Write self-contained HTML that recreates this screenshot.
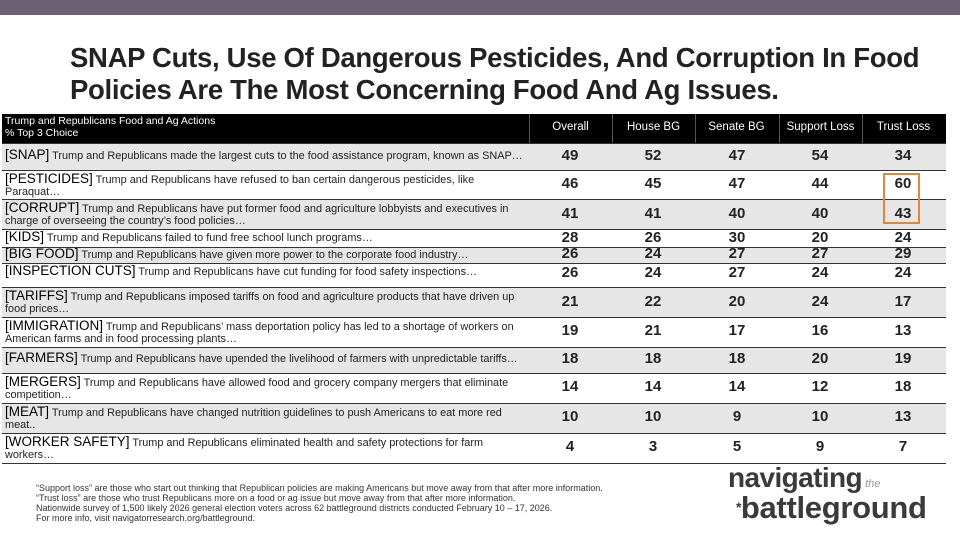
<!DOCTYPE html>
<html><head><meta charset="utf-8"><style>
*{margin:0;padding:0;box-sizing:border-box}
body{width:960px;height:540px;background:#fff;position:relative;overflow:hidden;font-family:"Liberation Sans",sans-serif;color:#111}
.bar{position:absolute;left:0;top:0;width:960px;height:15px;background:#6a6173}
.title{position:absolute;left:70px;top:42px;font-weight:bold;font-size:27.5px;line-height:32px;color:#222;white-space:nowrap;letter-spacing:-0.3px}
.row{position:absolute;left:2px;width:944px;border-top:1px solid #333}
.row .lab{position:absolute;left:3px;top:2px;width:525px;font-size:10.9px;line-height:12px;color:#222;white-space:nowrap}
.row .lab b{font-size:13.5px;font-weight:normal;color:#000}
.num{position:absolute;width:60px;text-align:center;font-size:15px;font-weight:bold;color:#222}
.hdr{position:absolute;left:2px;top:114px;width:944px;height:29px;background:#000;color:#fff}
.hdr .h{position:absolute;top:7px;font-size:11.5px;text-align:center;width:83px}
.hdr .vl{position:absolute;top:0;width:1px;height:29px;background:#555}
.box{position:absolute;left:883px;top:173px;width:37px;height:51px;border:2px solid #e0883a}
.foot{position:absolute;left:36px;top:483px;font-size:9px;line-height:10px;color:#333}
.logo{position:absolute;left:728px;top:466px;color:#3a3a3a;font-weight:bold;font-size:28px;line-height:23px;letter-spacing:-0.6px}
</style></head><body>
<div class="bar"></div>
<div class="title">SNAP Cuts, Use Of Dangerous Pesticides, And Corruption In Food<br>Policies Are The Most Concerning Food And Ag Issues.</div>
<div class="hdr">
<div style="position:absolute;left:3px;top:1px;font-size:10.5px;line-height:12px">Trump and Republicans Food and Ag Actions<br>% Top 3 Choice</div>
<div class="vl" style="left:527px"></div><div class="vl" style="left:610px"></div><div class="vl" style="left:693px"></div><div class="vl" style="left:777px"></div><div class="vl" style="left:860px"></div>
<div class="h" style="left:527px">Overall</div><div class="h" style="left:610px">House BG</div><div class="h" style="left:693px">Senate BG</div><div class="h" style="left:777px">Support Loss</div><div class="h" style="left:860px">Trust Loss</div>
</div>
<div style="position:absolute;left:2px;top:143px;width:944px;height:321px;border:2px solid #777;border-top:none"></div>

<div class="row" style="top:143px;height:27px;background:#e6e6e6"><div class="lab" style="top:5px"><b>[SNAP]</b> Trump and Republicans made the largest cuts to the food assistance program, known as SNAP…</div></div>
<div class="row" style="top:170px;height:29px;background:#fff"><div class="lab"><b>[PESTICIDES]</b> Trump and Republicans have refused to ban certain dangerous pesticides, like<br>Paraquat…</div></div>
<div class="row" style="top:199px;height:30px;background:#e6e6e6"><div class="lab"><b>[CORRUPT]</b> Trump and Republicans have put former food and agriculture lobbyists and executives in<br>charge of overseeing the country’s food policies…</div></div>
<div class="row" style="top:229px;height:18px;background:#fff"><div class="lab" style="top:1px"><b>[KIDS]</b> Trump and Republicans failed to fund free school lunch programs…</div></div>
<div class="row" style="top:247px;height:16px;background:#e6e6e6"><div class="lab" style="top:0"><b>[BIG FOOD]</b> Trump and Republicans have given more power to the corporate food industry…</div></div>
<div class="row" style="top:263px;height:24px;background:#fff"><div class="lab" style="top:1px"><b>[INSPECTION CUTS]</b> Trump and Republicans have cut funding for food safety inspections…</div></div>
<div class="row" style="top:287px;height:30px;background:#e6e6e6"><div class="lab"><b>[TARIFFS]</b> Trump and Republicans imposed tariffs on food and agriculture products that have driven up<br>food prices…</div></div>
<div class="row" style="top:317px;height:30px;background:#fff"><div class="lab"><b>[IMMIGRATION]</b> Trump and Republicans’ mass deportation policy has led to a shortage of workers on<br>American farms and in food processing plants…</div></div>
<div class="row" style="top:347px;height:26px;background:#e6e6e6"><div class="lab" style="top:4px"><b>[FARMERS]</b> Trump and Republicans have upended the livelihood of farmers with unpredictable tariffs…</div></div>
<div class="row" style="top:373px;height:30px;background:#fff"><div class="lab"><b>[MERGERS]</b> Trump and Republicans have allowed food and grocery company mergers that eliminate<br>competition…</div></div>
<div class="row" style="top:403px;height:30px;background:#e6e6e6"><div class="lab"><b>[MEAT]</b> Trump and Republicans have changed nutrition guidelines to push Americans to eat more red<br>meat..</div></div>
<div class="row" style="top:433px;height:30px;background:#fff"><div class="lab"><b>[WORKER SAFETY]</b> Trump and Republicans eliminated health and safety protections for farm<br>workers…</div></div>
<div style="position:absolute;left:2px;top:463px;width:944px;height:1px;background:#333"></div>

<div id="nums"></div>
<div class="box"></div>
<script>
var rows=[[147,49,52,47,54,34],[175,46,45,47,44,60],[205,41,41,40,40,43],[229,28,26,30,20,24],[245,26,24,27,27,29],[264,26,24,27,24,24],[293,21,22,20,24,17],[322,19,21,17,16,13],[350,18,18,18,20,19],[378,14,14,14,12,18],[408,10,10,9,10,13],[438,4,3,5,9,7]];
var cx=[570,653,737,820,903],h="";
rows.forEach(function(r){for(var i=0;i<5;i++)h+='<div class="num" style="left:'+(cx[i]-30)+'px;top:'+r[0]+'px">'+r[i+1]+'</div>';});
document.getElementById("nums").innerHTML=h;
</script>
<div class="foot">“Support loss” are those who start out thinking that Republican policies are making Americans but move away from that after more information.<br>“Trust loss” are those who trust Republicans more on a food or ag issue but move away from that after more information.<br>Nationwide survey of 1,500 likely 2026 general election voters across 62 battleground districts conducted February 10 – 17, 2026.<br>For more info, visit navigatorresearch.org/battleground.</div>
<div class="logo">navigating<span style="font-size:11px;font-style:italic;font-weight:normal;color:#999;letter-spacing:0"> the</span><br><span style="font-size:14px;vertical-align:6px;padding-left:8px">*</span><span style="font-size:31px;letter-spacing:-0.3px">battleground</span></div>
</body></html>
